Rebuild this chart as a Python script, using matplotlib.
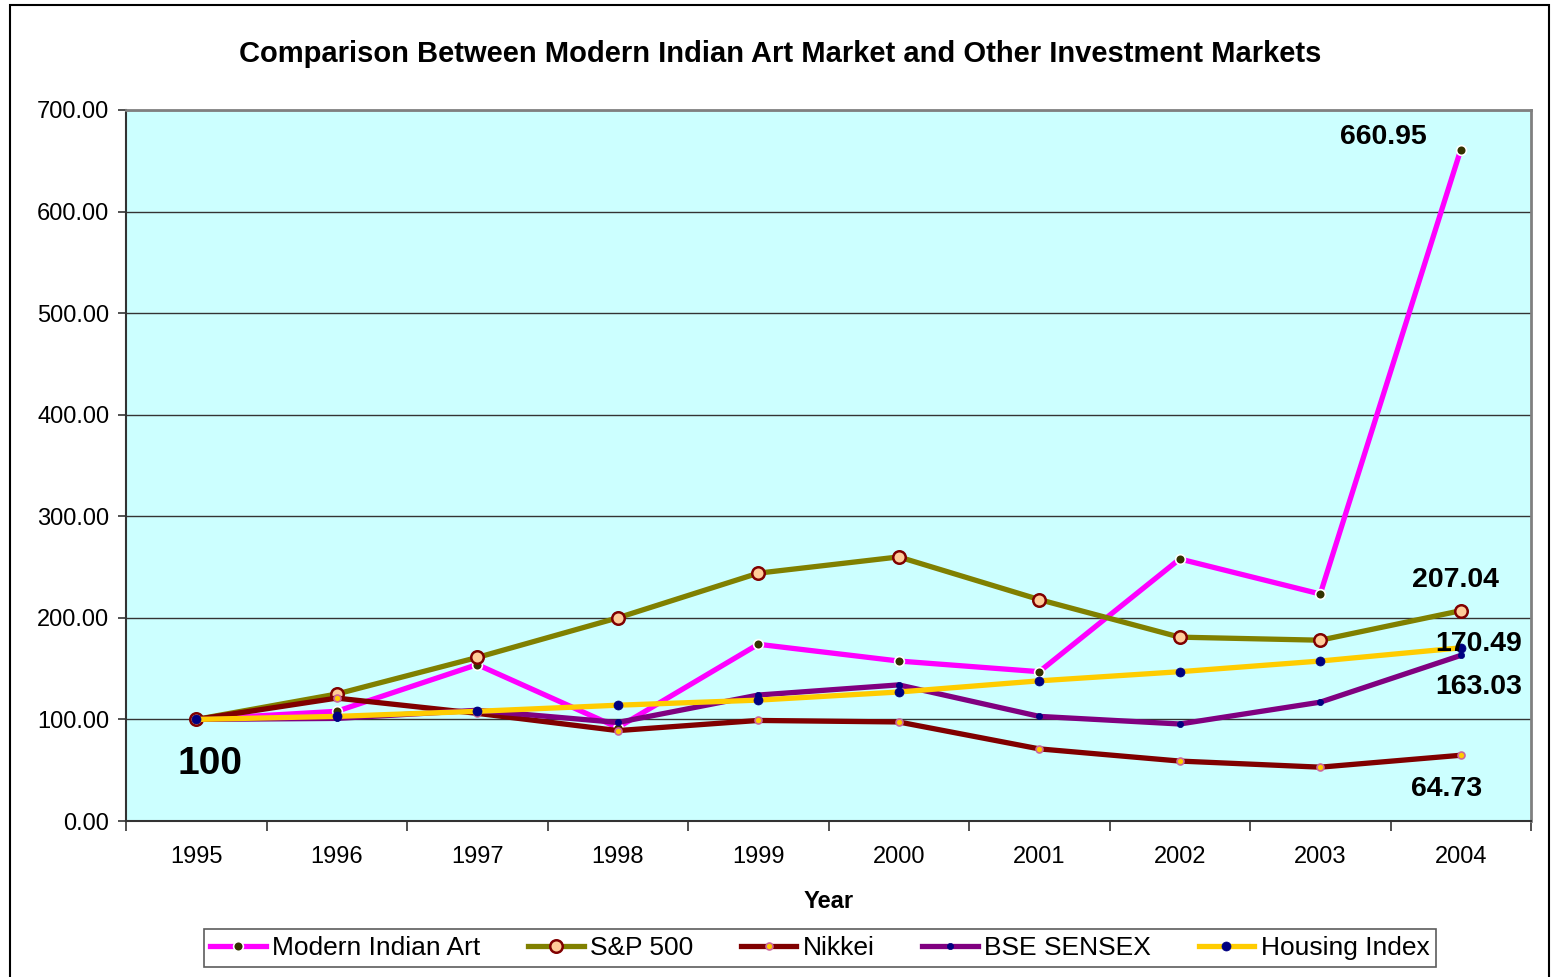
import matplotlib
matplotlib.use("Agg")
import matplotlib.pyplot as plt
from matplotlib.patches import Rectangle

plt.rcParams['font.family'] = ['Liberation Sans', 'DejaVu Sans']

years = ['1995', '1996', '1997', '1998', '1999', '2000', '2001', '2002', '2003', '2004']
modern_indian_art = [100, 108, 154, 92, 174, 157.5, 147, 258, 223.5, 660.95]
sp500 = [100, 125, 161, 200, 244, 260, 218, 181, 178, 207.04]
nikkei = [100, 121, 106, 89, 99, 97.5, 71, 59, 53, 64.73]
bse_sensex = [100, 101, 109, 97, 124, 134, 103, 95.5, 117, 163.03]
housing_index = [100, 103, 108, 114, 119, 127, 138, 147, 157.5, 170.49]
y_ticks = [0, 100, 200, 300, 400, 500, 600, 700]

fig = plt.figure(figsize=(15.53, 9.77), dpi=100)
fig.patch.set_facecolor('white')
fig.add_artist(Rectangle((10 / 1553, -0.01), 1539 / 1553, 1 - 5 / 977 + 0.01,
                         transform=fig.transFigure, fill=False,
                         edgecolor='black', linewidth=1.5))

ax = fig.add_axes([126 / 1553, 1 - 821 / 977, (1531 - 126) / 1553, (821 - 110) / 977])
ax.set_facecolor('#CCFFFF')
x = list(range(len(years)))

series = [
    ('Modern Indian Art', modern_indian_art, '#FF00FF', dict(marker='o', ms=7, mfc='#333300', mec='white', mew=1.2)),
    ('S&P 500', sp500, '#808000', dict(marker='o', ms=9, mfc='#FFCC99', mec='#800000', mew=1.8)),
    ('Nikkei', nikkei, '#800000', dict(marker='o', ms=5, mfc='#FFCC00', mec='#CC6699', mew=1.2)),
    ('BSE SENSEX', bse_sensex, '#800080', dict(marker='o', ms=4.5, mfc='#000080', mec='#000080', mew=0.5)),
    ('Housing Index', housing_index, '#FFCC00', dict(marker='o', ms=6.5, mfc='#000080', mec='#000080', mew=0.5)),
]
for i, (name, vals, col, mk) in enumerate(series):
    ax.plot(x, vals, color=col, lw=3.8, label=name, zorder=3 + i, solid_joinstyle='miter', **mk)

ax.set_xlim(-0.5, len(years) - 0.5)
ax.set_ylim(0, 700)
ax.set_yticks(y_ticks)
ax.set_yticklabels([f'{v:.2f}' for v in y_ticks], fontsize=17)
ax.set_xticks(x)
ax.set_xticklabels(years, fontsize=17)
ax.tick_params(axis='x', length=0, pad=18)
ax.set_xticks([i - 0.5 for i in range(len(years) + 1)], minor=True)
ax.tick_params(axis='x', which='minor', length=7, width=1.2, color='#333333', direction='out')
ax.tick_params(axis='y', length=6, width=1.2, color='#333333', direction='out', pad=6)
ax.yaxis.grid(True, color='#333333', lw=1.0)
ax.set_axisbelow(True)
for s in ['left', 'bottom']:
    ax.spines[s].set_color('#333333')
    ax.spines[s].set_linewidth(1.5)
for s in ['top', 'right']:
    ax.spines[s].set_color('#808080')
    ax.spines[s].set_linewidth(2)

ax.set_xlabel('Year', fontsize=17, fontweight='bold', labelpad=16)
fig.text(780 / 1553, 1 - 54 / 977, 'Comparison Between Modern Indian Art Market and Other Investment Markets',
         ha='center', va='center', fontsize=21, fontweight='bold')

lab = dict(fontweight='bold', ha='center', va='center', zorder=10)
ax.text(0.1, 56, '100', fontsize=28, **lab)
ax.text(8.45, 673, f'{modern_indian_art[-1]:.2f}', fontsize=20.5, **lab)
ax.text(8.96, 237, f'{sp500[-1]:.2f}', fontsize=20.5, **lab)
ax.text(9.13, 174, f'{housing_index[-1]:.2f}', fontsize=20.5, **lab)
ax.text(9.13, 132, f'{bse_sensex[-1]:.2f}', fontsize=20.5, **lab)
ax.text(8.9, 31.5, f'{nikkei[-1]:.2f}', fontsize=20.5, **lab)

leg = fig.legend(loc='center', bbox_to_anchor=(820 / 1553, 1 - 948 / 977), ncol=5,
                 fontsize=19, frameon=True, fancybox=False, edgecolor='#333333',
                 handlelength=2.1, handletextpad=0.25, columnspacing=1.8, borderpad=0.25,
                 borderaxespad=0)
leg.get_frame().set_linewidth(1.2)

fig.savefig('out.png', dpi=100)
